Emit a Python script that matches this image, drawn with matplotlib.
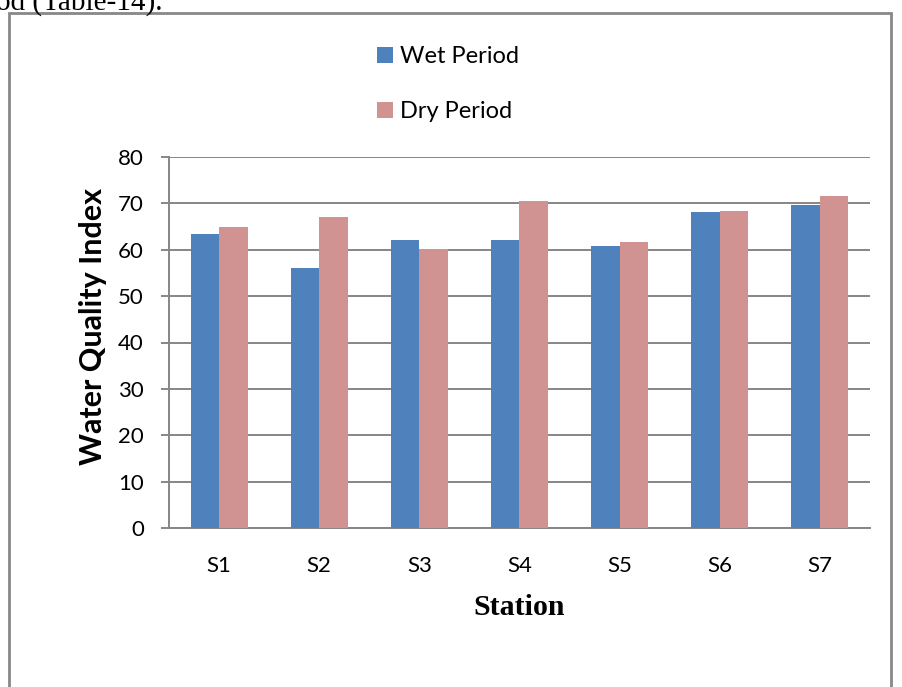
import matplotlib.pyplot as plt
from matplotlib.patches import Rectangle
import numpy as np

stations = ["S1", "S2", "S3", "S4", "S5", "S6", "S7"]
wet = [63.4, 56.1, 62.2, 62.2, 60.8, 68.2, 69.6]
dry = [64.9, 67.1, 60.2, 70.6, 61.7, 68.4, 71.5]
yticks = [0, 10, 20, 30, 40, 50, 60, 70, 80]

blue = "#4F81BD"
pink = "#D19392"
grid_c = "#868686"

fig = plt.figure(figsize=(9.03, 6.87), dpi=100)
ax = fig.add_axes([169 / 903, 1 - 528 / 687, 701 / 903, 371 / 687])

x = np.arange(len(stations))
w = 0.285
b1 = ax.bar(x - w / 2, wet, w, color=blue, label="Wet Period", zorder=3)
b2 = ax.bar(x + w / 2, dry, w, color=pink, label="Dry Period", zorder=3)

ax.set_xlim(-0.5, len(stations) - 0.5)
ax.set_ylim(0, 80)
ax.set_yticks(yticks)
ax.set_xticks(x)
ax.set_xticklabels(stations, family="Lato", fontsize=16)
for t in ax.get_yticklabels():
    t.set_family("Lato")
    t.set_fontsize(16)

ax.yaxis.grid(True, color=grid_c, lw=1.4, zorder=0)
ax.tick_params(axis="y", direction="out", length=6, width=1.4, color=grid_c, pad=12)
ax.tick_params(axis="x", length=0, pad=20)
for s in ["top", "right"]:
    ax.spines[s].set_visible(False)
for s in ["left", "bottom"]:
    ax.spines[s].set_color(grid_c)
    ax.spines[s].set_linewidth(1.4)

ax.set_ylabel("Water Quality Index", family="Lato", fontweight="bold", fontsize=22, va="center")
ax.yaxis.set_label_coords(-0.108, 0.542)
ax.set_xlabel("Station", family="Liberation Serif", fontweight="bold", fontsize=21.5, labelpad=13)

fig.legend(handles=[b1, b2], loc="upper left", bbox_to_anchor=(356 / 903, 1 - 25 / 687),
           frameon=False, prop={"family": "Lato", "size": 17},
           handlelength=0.65, handleheight=0.65, handletextpad=0.3, labelspacing=1.45)

# surrounding document frame and cut-off caption line
fig.patches.append(Rectangle((9 / 903, -0.05), 882 / 903, 1.05 - 13 / 687,
                             transform=fig.transFigure, fill=False,
                             edgecolor="#888888", lw=2))
fig.text(-0.004, 1 - 10 / 687, "od (Table-14).", family="Liberation Serif",
         fontsize=21, va="baseline", ha="left")

fig.savefig("out.png", dpi=100)
